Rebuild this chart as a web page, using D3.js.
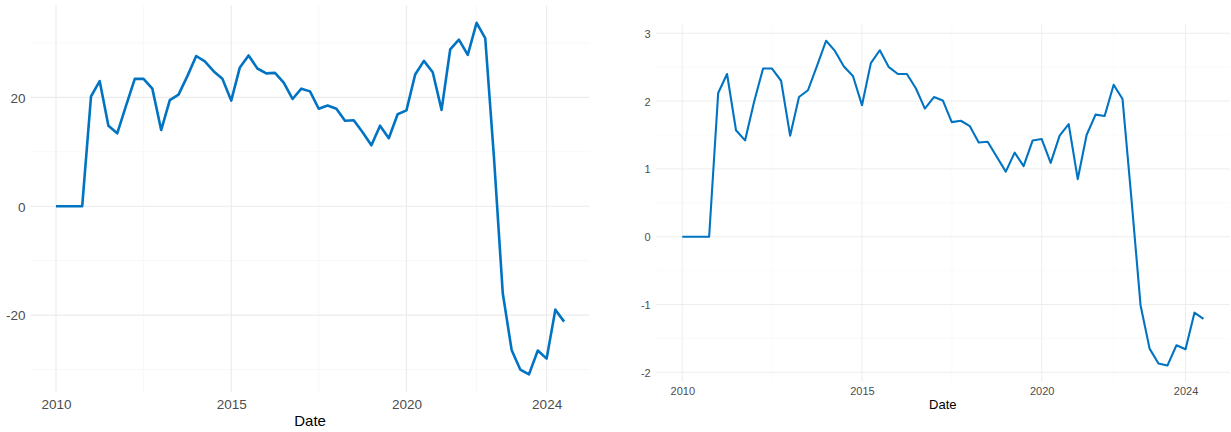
<!DOCTYPE html>
<html>
<head>
<meta charset="utf-8">
<script src="https://cdn.jsdelivr.net/npm/d3@7"></script>
<style>
  html, body { margin: 0; padding: 0; background: #ffffff; }
  svg { display: block; }
  text { font-family: "Liberation Sans", Arial, sans-serif; }
</style>
</head>
<body>
<svg id="chart" width="1231" height="432"></svg>
<script>
// Quarterly dates, 2010 Q1 .. 2024 Q3
const dates = d3.timeMonth.range(new Date(2010, 0, 1), new Date(2024, 7, 1), 3);

// Left panel series
const leftValues = [
  0, 0, 0, 0,
  20.2, 23.0, 14.8, 13.4,
  18.5, 23.4, 23.4, 21.6,
  14.0, 19.5, 20.5, 23.9,
  27.6, 26.6, 24.8, 23.4,
  19.4, 25.5, 27.7, 25.3,
  24.4, 24.5, 22.7, 19.7,
  21.6, 21.1, 17.9, 18.5,
  17.9, 15.7, 15.8, 13.6,
  11.2, 14.8, 12.5, 16.9,
  17.6, 24.2, 26.7, 24.6,
  17.7, 28.8, 30.6, 27.8,
  33.7, 30.9, 9.0, -16.0,
  -26.4, -30.0, -30.9, -26.5,
  -28.0, -19.0, -21.2
];

// Right panel series
const rightValues = [
  0, 0, 0, 0,
  2.12, 2.40, 1.57, 1.42,
  1.99, 2.48, 2.48, 2.30,
  1.49, 2.06, 2.16, 2.52,
  2.89, 2.74, 2.51, 2.37,
  1.94, 2.56, 2.75, 2.50,
  2.40, 2.40, 2.19, 1.89,
  2.06, 2.01, 1.69, 1.71,
  1.63, 1.39, 1.40, 1.18,
  0.96, 1.24, 1.04, 1.42,
  1.44, 1.09, 1.49, 1.66,
  0.85, 1.50, 1.80, 1.78,
  2.24, 2.03, 0.55, -1.01,
  -1.65, -1.87, -1.90, -1.60,
  -1.66, -1.12, -1.21
];

// Axis ticks
const xTickYears = [2010, 2015, 2020, 2024];
const leftYTicks = [-20, 0, 20];
const leftYMinor = [-30, -10, 10, 30];
const rightYTicks = [-2, -1, 0, 1, 2, 3];
const rightYMinor = [-1.5, -0.5, 0.5, 1.5, 2.5];
const xLabel = "Date";

const svg = d3.select("#chart");

function drawPanel(cfg) {
  const values = cfg.values;
  const data = dates.map((d, i) => ({ date: d, value: values[i] }));
  const xExt = d3.extent(dates);
  const xPad = (xExt[1] - xExt[0]) * 0.05;
  const x = d3.scaleTime()
    .domain([new Date(+xExt[0] - xPad), new Date(+xExt[1] + xPad)])
    .range([cfg.left, cfg.right]);
  const yExt = d3.extent(values);
  const yPad = (yExt[1] - yExt[0]) * 0.05;
  const y = d3.scaleLinear()
    .domain([yExt[0] - yPad, yExt[1] + yPad])
    .range([cfg.bottom, cfg.top]);

  const g = svg.append("g");
  const majorX = xTickYears.map(yr => new Date(yr, 0, 1));
  const minorX = [];
  for (let i = 0; i < majorX.length - 1; i++) {
    minorX.push(new Date((+majorX[i] + +majorX[i + 1]) / 2));
  }

  // minor grid
  g.selectAll(".ymin").data(cfg.yMinor).enter().append("line")
    .attr("x1", cfg.left).attr("x2", cfg.right)
    .attr("y1", d => y(d)).attr("y2", d => y(d))
    .attr("stroke", "#f3f3f3").attr("stroke-width", cfg.minorW);
  g.selectAll(".xmin").data(minorX).enter().append("line")
    .attr("y1", cfg.top).attr("y2", cfg.bottom)
    .attr("x1", d => x(d)).attr("x2", d => x(d))
    .attr("stroke", "#f3f3f3").attr("stroke-width", cfg.minorW);
  // major grid
  g.selectAll(".ymaj").data(cfg.yTicks).enter().append("line")
    .attr("x1", cfg.left).attr("x2", cfg.right)
    .attr("y1", d => y(d)).attr("y2", d => y(d))
    .attr("stroke", "#ebebeb").attr("stroke-width", cfg.majorW);
  g.selectAll(".xmaj").data(majorX).enter().append("line")
    .attr("y1", cfg.top).attr("y2", cfg.bottom)
    .attr("x1", d => x(d)).attr("x2", d => x(d))
    .attr("stroke", "#ebebeb").attr("stroke-width", cfg.majorW);

  // line
  const line = d3.line().x(d => x(d.date)).y(d => y(d.value));
  g.append("path").datum(data)
    .attr("d", line)
    .attr("fill", "none")
    .attr("stroke", "#0074c3")
    .attr("stroke-width", cfg.lineW)
    .attr("stroke-linejoin", "round");

  // axes text (no domain lines or ticks, theme_minimal style)
  const xAxis = d3.axisBottom(x).tickValues(majorX).tickFormat(d3.timeFormat("%Y")).tickSize(0).tickPadding(0);
  const xa = g.append("g").attr("transform", `translate(0,${cfg.xLabelY})`).call(xAxis);
  xa.select(".domain").remove();
  xa.selectAll("text").attr("dy", 0).attr("y", 0)
    .attr("font-size", cfg.tickSize).attr("fill", "#4d4d4d")
    .attr("font-family", "Liberation Sans, Arial, sans-serif");

  const yAxis = d3.axisLeft(y).tickValues(cfg.yTicks).tickFormat(d3.format("d")).tickSize(0).tickPadding(0);
  const ya = g.append("g").attr("transform", `translate(${cfg.yLabelX},0)`).call(yAxis);
  ya.select(".domain").remove();
  ya.selectAll("text").attr("x", 0).attr("dy", "0.36em")
    .attr("font-size", cfg.tickSize).attr("fill", "#4d4d4d")
    .attr("font-family", "Liberation Sans, Arial, sans-serif")
    .text(d => d < 0 ? "-" + Math.abs(d) : String(d));

  g.append("text")
    .attr("x", (cfg.left + cfg.right) / 2)
    .attr("y", cfg.titleY)
    .attr("text-anchor", "middle")
    .attr("font-size", cfg.titleSize)
    .attr("fill", "#000000")
    .text(xLabel);
}

drawPanel({
  values: leftValues, yTicks: leftYTicks, yMinor: leftYMinor,
  left: 30.6, right: 589.5, top: 5.2, bottom: 392,
  xLabelY: 408.5, yLabelX: 25.5, titleY: 425.8,
  tickSize: 13.5, titleSize: 15, lineW: 2.6, majorW: 1.1, minorW: 0.55
});

drawPanel({
  values: rightValues, yTicks: rightYTicks, yMinor: rightYMinor,
  left: 656.2, right: 1229.5, top: 24.5, bottom: 381.8,
  xLabelY: 395, yLabelX: 650.7, titleY: 409.3,
  tickSize: 11, titleSize: 13, lineW: 2.1, majorW: 0.9, minorW: 0.45
});
</script>
</body>
</html>
